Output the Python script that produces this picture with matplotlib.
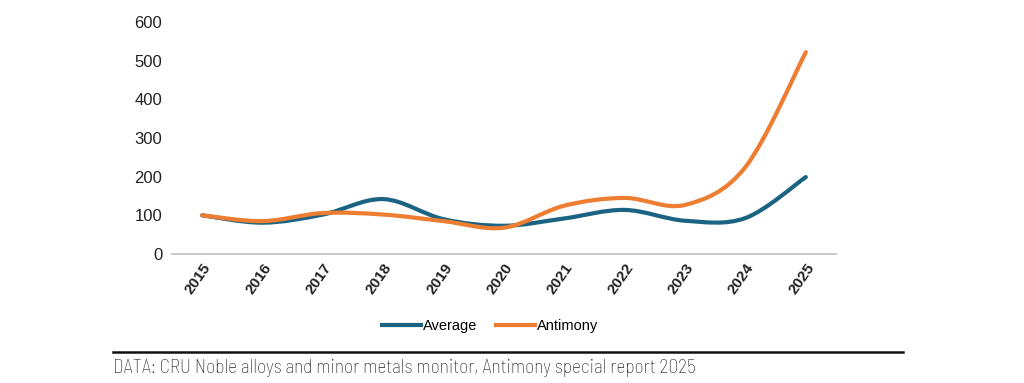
import numpy as np
import matplotlib.pyplot as plt
from matplotlib.path import Path
from matplotlib.patches import PathPatch
from matplotlib.lines import Line2D

years = [2015, 2016, 2017, 2018, 2019, 2020, 2021, 2022, 2023, 2024, 2025]
average = [100, 81, 102, 142, 90, 73, 92, 114, 86, 93, 199]
antimony = [100, 85, 106, 102, 85, 68, 125, 145, 127, 225, 522]

BLUE = '#1b6383'
ORANGE = '#ed7d31'


def smooth_path(xs, ys):
    # Bezier segments through the data points (Excel-style smoothed line)
    p = np.column_stack([xs, ys]).astype(float)
    n = len(p)
    verts = [p[0]]
    codes = [Path.MOVETO]
    for i in range(n - 1):
        p0 = p[i - 1] if i > 0 else p[i]
        p3 = p[i + 2] if i + 2 < n else p[i + 1]
        c1 = p[i] + (p[i + 1] - p0) / 6
        c2 = p[i + 1] - (p3 - p[i]) / 6
        verts += [c1, c2, p[i + 1]]
        codes += [Path.CURVE4] * 3
    return Path(verts, codes)


fig = plt.figure(figsize=(10.24, 3.83), dpi=100)
ax = fig.add_axes([172 / 1024, 1 - 254 / 383, (836 - 172) / 1024, (254 - 22) / 383])

xs = np.arange(len(years))
for ys, col in [(average, BLUE), (antimony, ORANGE)]:
    ax.add_patch(PathPatch(smooth_path(xs, ys), facecolor='none', edgecolor=col,
                           lw=3.0, capstyle='round', joinstyle='round'))

ax.set_xlim(-0.5, len(years) - 0.5)
ax.set_ylim(0, 600)
ax.set_yticks(np.arange(0, 601, 100))
ax.set_xticks(xs)
ax.set_xticklabels([str(y) for y in years], rotation=55, ha='right',
                   rotation_mode='anchor', fontweight='bold', fontsize=11,
                   family='Liberation Sans')
for lab in ax.get_yticklabels():
    lab.set_family('Liberation Sans')
    lab.set_fontsize(12)
ax.tick_params(axis='both', length=0, colors='#222222')
ax.tick_params(axis='y', pad=7)
ax.tick_params(axis='x', pad=5)
for s in ['top', 'right', 'left']:
    ax.spines[s].set_visible(False)
ax.spines['bottom'].set_color('#bfbfbf')
ax.spines['bottom'].set_linewidth(1.2)

handles = [Line2D([], [], color=BLUE, lw=3.0), Line2D([], [], color=ORANGE, lw=3.0)]
fig.legend(handles, ['Average', 'Antimony'], loc='center', bbox_to_anchor=(490 / 1024, 1 - 326 / 383),
           ncol=2, frameon=False, handlelength=2.7, handletextpad=0.1, columnspacing=1.3,
           prop={'family': 'Liberation Sans', 'size': 10.5})

fig.add_artist(Line2D([113 / 1024, 903 / 1024], [1 - 352 / 383] * 2, color='#111111', lw=1.8))
fig.text(113 / 1024, 1 - 368 / 383, 'DATA: CRU Noble alloys and minor metals monitor, Antimony special report 2025',
         ha='left', va='center', fontsize=14, color='#222222',
         family='Barlow Semi Condensed', fontweight='light')

fig.savefig('out.png', dpi=100)
